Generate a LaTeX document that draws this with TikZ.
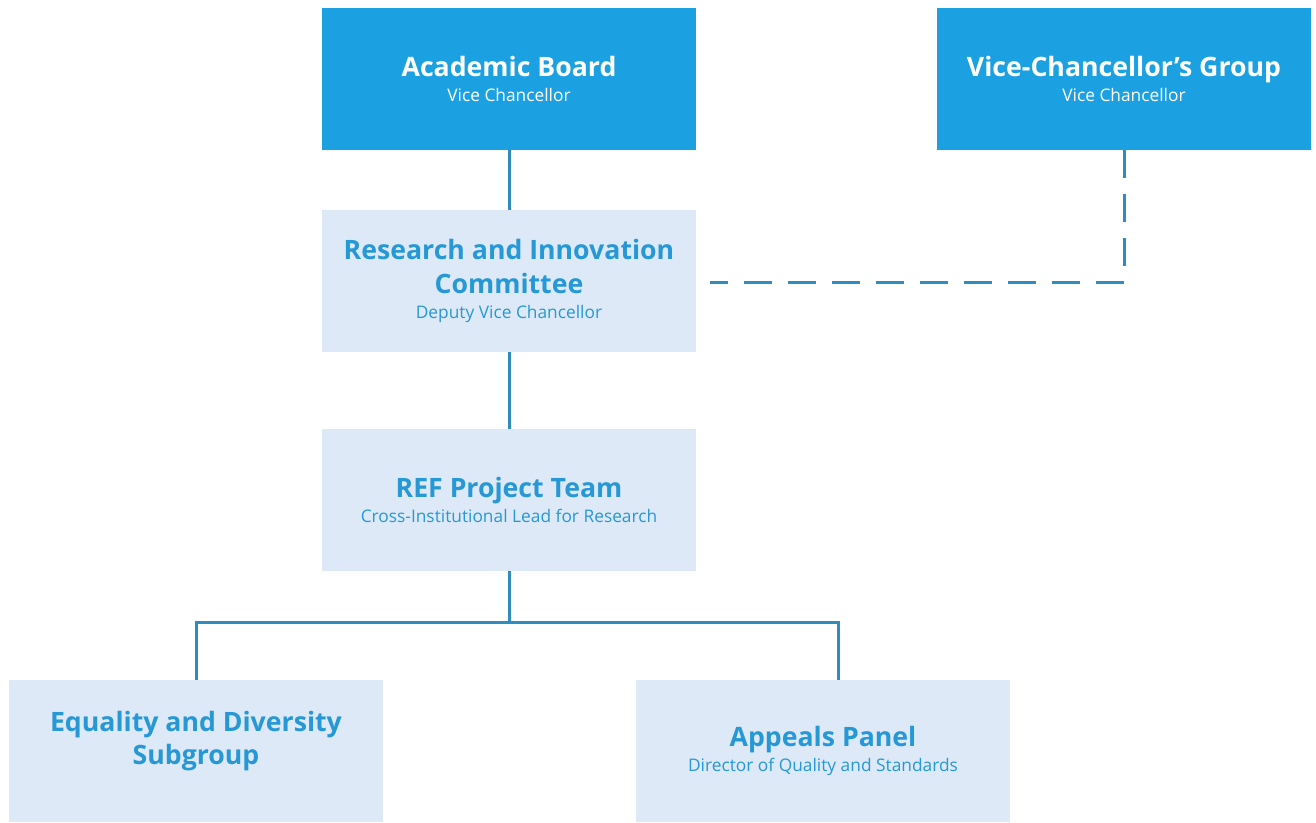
\documentclass[tikz,border=0pt]{standalone}
\usepackage{fontspec}
\setmainfont{Open Sans}
\usetikzlibrary{positioning}

\definecolor{boarddark}{RGB}{27,161,226}
\definecolor{boardlight}{RGB}{221,233,246}
\definecolor{titleblue}{RGB}{38,152,214}
\definecolor{linkblue}{RGB}{46,140,192}

\newcommand{\titlefont}{\fontsize{20}{25}\selectfont\bfseries}
\newcommand{\subfont}{\fontsize{13}{17}\selectfont\mdseries}

\begin{document}
\begin{tikzpicture}[x=0.75pt, y=-0.75pt]

% Styles
\tikzstyle{darkbox} = [rectangle, fill=boarddark, text=white, font=\titlefont, minimum width=280.5pt, minimum height=106.5pt, inner sep=0pt, align=center]
\tikzstyle{lightbox} = [rectangle, fill=boardlight, text=titleblue, font=\titlefont, minimum width=280.5pt, minimum height=106.5pt, inner sep=0pt, align=center]
\tikzstyle{link} = [draw=linkblue, line width=2.25pt]
\tikzstyle{dashlink} = [link, dash pattern=on 21pt off 12pt]

\useasboundingbox (0,0) rectangle (1316,822);

% Nodes - top level
\node[darkbox] (board) at (509,79) {Academic Board\\[-6pt]\subfont Vice Chancellor};
\node[darkbox] (vcg) at (1124,79) {Vice-Chancellor’s Group\\[-6pt]\subfont Vice Chancellor};

% Nodes - committee and project team
\node[lightbox] (ric) at (509,281) {Research and Innovation\\Committee\\[-6pt]\subfont Deputy Vice Chancellor};
\node[lightbox] (ref) at (509,500) {REF Project Team\\[-6pt]\subfont Cross-Institutional Lead for Research};

% Nodes - subgroups
\node[lightbox] (eqd) at (196,751) {Equality and Diversity\\Subgroup\\[-10pt]\subfont\strut};
\node[lightbox] (appeals) at (823,751) {Appeals Panel\\[-6pt]\subfont Director of Quality and Standards};

% Connections
\coordinate (bus) at (509,622);
\coordinate (appin) at (838,680);
\coordinate (dashend) at (710,282);
\draw[link] (board) -- (ric);
\draw[link] (ric) -- (ref);
\draw[link] (ref) -- (bus) -| (eqd.north);
\draw[link] (bus) -| (appin);
\draw[dashlink] (vcg.south) |- (dashend);

\end{tikzpicture}
\end{document}
